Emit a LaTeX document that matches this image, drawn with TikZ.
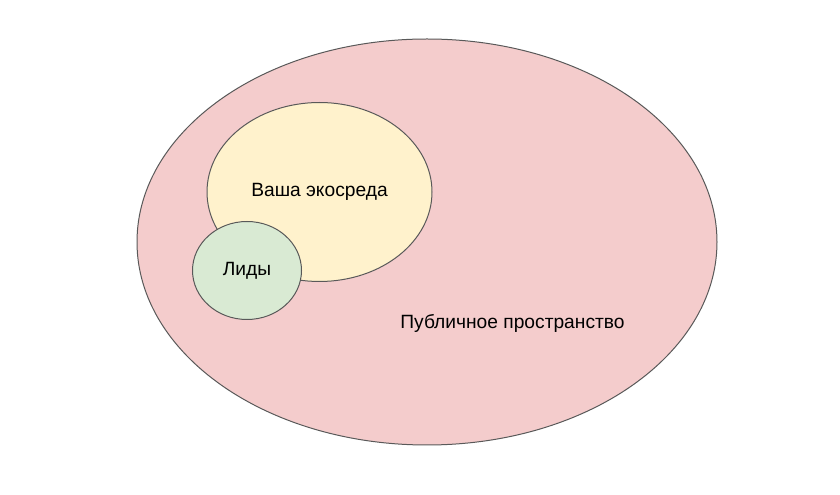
\documentclass[tikz,border=0pt]{standalone}
\usepackage{fontspec}
\setmainfont{Liberation Sans}
\usepackage{xcolor}
\usepackage{tikz}
\usetikzlibrary{
  positioning,
  shapes.geometric
}
\definecolor{pubfill}{HTML}{F4CCCC}
\definecolor{ecofill}{HTML}{FFF2CC}
\definecolor{leadfill}{HTML}{D9EAD3}
\definecolor{edge}{HTML}{595959}

\begin{document}
\begin{tikzpicture}[x=0.75pt,y=-0.75pt,
  area/.style={ellipse,draw=edge,line width=0.75pt,inner sep=0pt},
  lbl/.style={font=\fontsize{14.4}{17}\selectfont}]
  % 枠
  \useasboundingbox (0,0) rectangle (840,495);
  % 楕円
  \node[area,fill=pubfill,minimum width=435pt,minimum height=304.5pt] (pub) at (427,242) {};
  \node[area,fill=ecofill,minimum width=168.75pt,minimum height=134.25pt,lbl] (eco) at (319.5,192) {Ваша экосреда};
  \node[area,fill=leadfill,minimum width=81.75pt,minimum height=73.5pt,lbl] (lead) at (247,270.5) {Лиды};
  % 名前
  \node[lbl] (publbl) at (512.5,323.5) {Публичное пространство};
\end{tikzpicture}
\end{document}
